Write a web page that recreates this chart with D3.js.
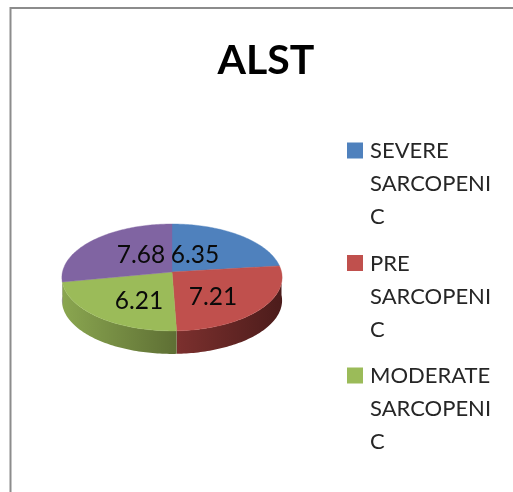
<!DOCTYPE html>
<html>
<head>
<meta charset="utf-8">
<script src="https://cdn.jsdelivr.net/npm/d3@7"></script>
<style>
html,body{margin:0;padding:0;background:#fff;overflow:hidden}
svg{display:block;filter:blur(0.35px)}
text{font-family:Lato,"Open Sans",sans-serif}
</style>
</head>
<body>
<svg id="c" width="513" height="492"></svg>
<script>
const chartTitle = "ALST";
const values = [6.35, 7.21, 6.21, 7.68];
const legendLines = [
  ["SEVERE", "SARCOPENI", "C"],
  ["PRE", "SARCOPENI", "C"],
  ["MODERATE", "SARCOPENI", "C"]
];

const colors = ["#4f81bd", "#c0504d", "#9bbb59", "#8064a2"];
const rimFrom = ["#3d648f", "#7c302e", "#8aa650", "#5f4a78"];
const rimTo = ["#3d648f", "#4c1c1b", "#5e6f34", "#5f4a78"];

const svg = d3.select("#c");
const W = 513, H = 492;
svg.append("path")
  .attr("d", d3.line()([[10.5, H], [10.5, 8], [W, 8]]))
  .attr("fill", "none").attr("stroke", "#8c8c8c").attr("stroke-width", 2);

svg.append("text").text(chartTitle)
  .attr("x", 266).attr("y", 74).attr("text-anchor", "middle")
  .attr("font-size", 41).attr("font-weight", 700).attr("fill", "#000");

// pie geometry: a disc seen in perspective, with a visible side
const cx = 172, cy = 272, R = 109.5, ry = 52.9, k = 0.102, depth = 23;
function project(a, drop) {
  const v = -Math.cos(a), s = 1 / (1 - k * v);
  return [cx + R * Math.sin(a) * s, cy + ry * v * s + (drop || 0)];
}
function arcPts(a0, a1, drop) {
  const n = Math.max(2, Math.ceil(Math.abs(a1 - a0) / 0.02));
  return d3.range(n + 1).map(i => project(a0 + (a1 - a0) * i / n, drop));
}
const arcs = d3.pie().sort(null)(values);
const line = d3.line();
const defs = svg.append("defs");

// side wall, only on the front half of the disc
const rimStart = Math.PI / 2, rimEnd = Math.PI * 1.5;
arcs.forEach((d, i) => {
  const a0 = Math.max(d.startAngle, rimStart), a1 = Math.min(d.endAngle, rimEnd);
  if (a1 <= a0) return;
  const top = arcPts(a0, a1, 0), bottom = arcPts(a1, a0, depth);
  const xs = top.map(p => p[0]);
  const g = defs.append("linearGradient").attr("id", "rim" + i)
    .attr("gradientUnits", "userSpaceOnUse")
    .attr("x1", d3.min(xs)).attr("x2", d3.max(xs)).attr("y1", 0).attr("y2", 0);
  g.append("stop").attr("offset", 0).attr("stop-color", rimFrom[i]);
  g.append("stop").attr("offset", 1).attr("stop-color", rimTo[i]);
  svg.append("path").attr("d", line(top.concat(bottom)) + "Z")
    .attr("fill", `url(#rim${i})`);
});

// top face
arcs.forEach((d, i) => {
  const pts = [[cx, cy]].concat(arcPts(d.startAngle, d.endAngle, 0));
  svg.append("path").attr("d", line(pts) + "Z")
    .attr("fill", colors[i]).attr("stroke", colors[i]).attr("stroke-width", 0.4);
});

// data labels, offset from the pie centre
const labelOffset = [[23, -18], [41, 24], [-33, 28], [-31, -18]];
values.forEach((v, i) => {
  svg.append("text").text(v.toFixed(2))
    .attr("x", cx + labelOffset[i][0]).attr("y", cy + labelOffset[i][1] + 9)
    .attr("text-anchor", "middle").attr("font-size", 24.5).attr("fill", "#0a0a0a");
});

// legend
const legendTop = 150, legendStep = 112.5, lineStep = 33;
legendLines.forEach((lines, i) => {
  const y = legendTop + i * legendStep;
  svg.append("rect").attr("x", 347).attr("y", y - 7.5)
    .attr("width", 16).attr("height", 16).attr("fill", colors[i]);
  lines.forEach((t, j) => {
    svg.append("text").text(t).attr("x", 370).attr("y", y + 8 + j * lineStep)
      .attr("font-size", 22).attr("fill", "#262626");
  });
});
</script>
</body>
</html>
